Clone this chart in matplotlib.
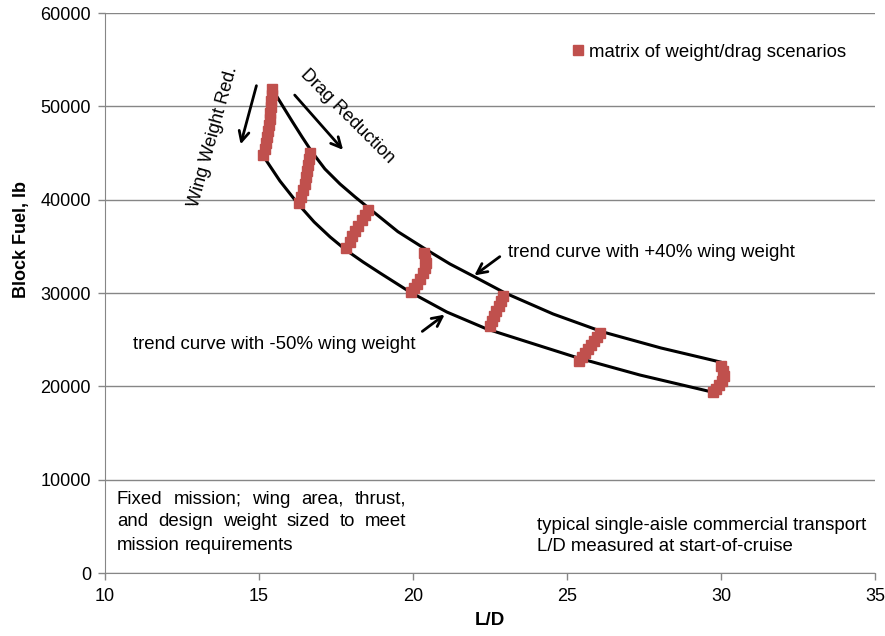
import matplotlib.pyplot as plt

plt.rcParams['font.family'] = ['Liberation Sans', 'DejaVu Sans']

# marker clusters (matrix of weight/drag scenarios), one list per cluster
cluster_x = [
    [15.42, 15.42, 15.39, 15.39, 15.36, 15.36, 15.32, 15.29, 15.26, 15.23, 15.19, 15.13],
    [16.66, 16.62, 16.59, 16.56, 16.53, 16.49, 16.43, 16.36, 16.30],
    [18.54, 18.44, 18.34, 18.21, 18.12, 18.02, 17.95, 17.82],
    [20.36, 20.39, 20.42, 20.39, 20.32, 20.23, 20.13, 20.03, 19.94],
    [22.92, 22.86, 22.79, 22.69, 22.63, 22.56, 22.50],
    [26.07, 25.97, 25.88, 25.78, 25.68, 25.58, 25.49, 25.39],
    [30.00, 30.06, 30.10, 30.03, 29.94, 29.84, 29.74],
]
cluster_y = [
    [51860, 51210, 50570, 49930, 49290, 48640, 48000, 47360, 46710, 46070, 45430, 44790],
    [45000, 44360, 43710, 43070, 42430, 41680, 41040, 40290, 39640],
    [38890, 38360, 37820, 37180, 36640, 36110, 35460, 34820],
    [34290, 33750, 33210, 32680, 32140, 31500, 30960, 30540, 30110],
    [29680, 29140, 28610, 28070, 27540, 27000, 26460],
    [25710, 25290, 24860, 24430, 24000, 23570, 23140, 22710],
    [22180, 21640, 21110, 20570, 20140, 19710, 19390],
]

# trend curves
upper_x = [15.55, 15.81, 16.07, 16.40, 16.72, 17.14, 17.63, 18.12, 18.60, 19.51,
           20.45, 21.20, 21.95, 22.99, 24.55, 26.17, 28.05, 29.97]
upper_y = [51210, 49820, 48430, 46710, 45110, 43290, 41680, 40290, 39000, 36570,
           34610, 33110, 31820, 30000, 27750, 25820, 24110, 22610]
lower_x = [15.16, 15.68, 16.27, 16.79, 17.31, 17.82, 18.38, 18.93, 19.90, 21.10,
           22.40, 24.03, 25.36, 27.37, 29.71]
lower_y = [44570, 42000, 39540, 37610, 36000, 34610, 33320, 32140, 30110, 27960,
           26140, 24430, 23040, 21210, 19390]

x_ticks = [10, 15, 20, 25, 30, 35]
y_ticks = [0, 10000, 20000, 30000, 40000, 50000, 60000]

note_lines = ['Fixed mission; wing area, thrust,',
              'and design weight sized to meet',
              'mission requirements']

red = '#C0504D'
axis_grey = '#868686'

fig = plt.figure(figsize=(8.85, 6.36), dpi=100)
ax = fig.add_axes([105 / 885, 1 - 573 / 636, 770 / 885, 560 / 636])

ax.plot(upper_x, upper_y, color='black', lw=2.2, zorder=3, solid_joinstyle='round')
ax.plot(lower_x, lower_y, color='black', lw=2.2, zorder=3, solid_joinstyle='round')

for i, (cx, cy) in enumerate(zip(cluster_x, cluster_y)):
    ax.plot(cx, cy, ls='none', marker='s', ms=7, color=red, mec=red,
            zorder=4, label='matrix of weight/drag scenarios' if i == 0 else None)

ax.set_xlim(10, 35)
ax.set_ylim(0, 60000)
ax.set_xticks(x_ticks)
ax.set_yticks(y_ticks)
ax.tick_params(labelsize=13, color=axis_grey, length=5, width=1)
ax.tick_params(axis='x', pad=6)
ax.tick_params(axis='y', pad=5)
ax.grid(axis='y', color=axis_grey, lw=1)
ax.set_axisbelow(True)
for s in ['top', 'right']:
    ax.spines[s].set_visible(False)
for s in ['left', 'bottom']:
    ax.spines[s].set_color(axis_grey)

ax.set_xlabel('L/D', fontsize=13.5, fontweight='bold')
ax.set_ylabel('Block Fuel, lb', fontsize=13, fontweight='bold')
ax.xaxis.set_label_coords(0.5, -0.07)
ax.yaxis.set_label_coords(-0.097, 0.595)

ax.legend(loc='upper left', bbox_to_anchor=(0.585, 0.975), frameon=False,
          fontsize=13.4, handlelength=0.6, handletextpad=0.3, markerscale=1.1)

arrow = dict(arrowstyle='->', color='black', lw=2, mutation_scale=18)
ax.annotate('', xy=(14.38, 45640), xytext=(14.94, 52500), arrowprops=arrow)
ax.annotate('', xy=(17.79, 45110), xytext=(16.10, 51430), arrowprops=arrow)
ax.annotate('', xy=(21.92, 31710), xytext=(22.89, 34070), arrowprops=arrow)
ax.annotate('', xy=(21.10, 27860), xytext=(20.23, 25710), arrowprops=arrow)

ax.text(13.51, 46710, 'Wing Weight Red.', rotation=74.5, fontsize=13,
        ha='center', va='center', rotation_mode='anchor')
ax.text(17.86, 48960, 'Drag Reduction', rotation=-45, fontsize=13,
        ha='center', va='center', rotation_mode='anchor')
ax.text(23.08, 34390, 'trend curve with +40% wing weight', fontsize=13.4, va='center')
ax.text(10.91, 24430, 'trend curve with -50% wing weight', fontsize=13.4, va='center')
ax.text(24.03, 3960, 'typical single-aisle commercial transport\nL/D measured at start-of-cruise',
        fontsize=13.4, va='center', linespacing=1.3)

# justified note box, bottom left (pixel positions in the output image)
fig.canvas.draw()
renderer = fig.canvas.get_renderer()
left_px, right_px = 117, 406
line_px = [499, 522, 546]
for k, line in enumerate(note_lines):
    y_disp = 636 - line_px[k]
    words = line.split(' ')
    texts = [fig.text(0, y_disp / 636, w, fontsize=13.4, va='center') for w in words]
    widths = [t.get_window_extent(renderer).width for t in texts]
    if k < len(note_lines) - 1:
        gap = (right_px - left_px - sum(widths)) / (len(words) - 1)
    else:
        gap = texts[0].get_fontsize() * 100 / 72 * 0.278
    x = left_px
    for t, w in zip(texts, widths):
        t.set_x(x / 885)
        x += w + gap

fig.savefig('out.png', dpi=100)
